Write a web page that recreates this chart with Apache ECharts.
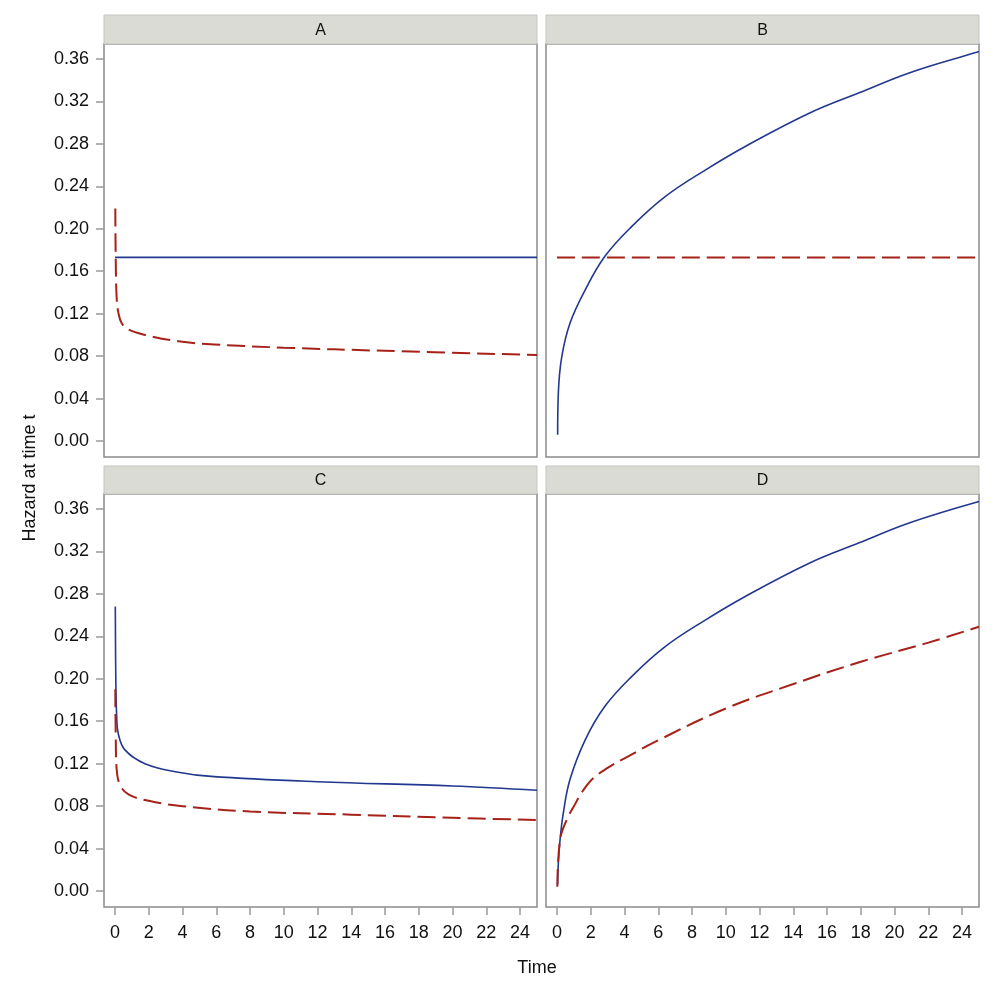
<!DOCTYPE html>
<html>
<head>
<meta charset="utf-8">
<script src="https://cdn.jsdelivr.net/npm/echarts@6/dist/echarts.min.js"></script>
<style>
  html, body { margin: 0; padding: 0; background: #fff; }
  #chart { width: 997px; height: 997px; }
</style>
</head>
<body>
<div id="chart"></div>
<script>
// values
const panels = ['A', 'B', 'C', 'D']
const xTicks = [0, 2, 4, 6, 8, 10, 12, 14, 16, 18, 20, 22, 24]
const yTicks = [0, 0.04, 0.08, 0.12, 0.16, 0.2, 0.24, 0.28, 0.32, 0.36]

// panel A
const aBlueT = [0, 25]
const aBlueH = [0.173, 0.173]
const aRedT = [0.02, 0.05, 0.1, 0.2, 0.4, 0.8, 1.78, 3.75, 5.9, 10, 16, 25]
const aRedH = [0.219, 0.165, 0.135, 0.121, 0.111, 0.105, 0.100, 0.094, 0.091, 0.088, 0.085, 0.081]

// panel B
const bBlueT = [0.04, 0.08, 0.28, 0.77, 1.66, 2.84, 4.42, 6.39, 8.76, 11.1, 14.97, 17.9, 20.9, 24.8, 25]
const bBlueH = [0.006, 0.045, 0.079, 0.111, 0.142, 0.174, 0.202, 0.230, 0.255, 0.277, 0.309, 0.328, 0.347, 0.366, 0.367]
const bRedT = [0, 25]
const bRedH = [0.173, 0.173]

// panel C
const cBlueT = [0.02, 0.05, 0.1, 0.2, 0.59, 1.78, 3.75, 5.7, 12, 20, 25]
const cBlueH = [0.268, 0.199, 0.165, 0.148, 0.133, 0.120, 0.112, 0.108, 0.103, 0.099, 0.095]
const cRedT = [0.02, 0.05, 0.1, 0.3, 0.8, 2, 4, 8, 14, 20, 25]
const cRedH = [0.190, 0.140, 0.115, 0.100, 0.091, 0.085, 0.080, 0.075, 0.072, 0.069, 0.067]

// panel D
const dBlueT = [0.04, 0.08, 0.18, 0.37, 0.77, 1.66, 2.84, 4.42, 6.39, 8.76, 11.1, 14.97, 17.9, 20.9, 25]
const dBlueH = [0.006, 0.026, 0.048, 0.073, 0.105, 0.142, 0.174, 0.202, 0.230, 0.255, 0.277, 0.309, 0.328, 0.347, 0.367]
const dRedT = [0.02, 0.18, 0.57, 0.97, 1.56, 2.13, 3, 4, 6, 10, 14, 18, 22, 25]
const dRedH = [0.004, 0.048, 0.067, 0.079, 0.095, 0.106, 0.116, 0.125, 0.142, 0.172, 0.195, 0.216, 0.234, 0.249]

const blueT = [aBlueT, bBlueT, cBlueT, dBlueT]
const blueH = [aBlueH, bBlueH, cBlueH, dBlueH]
const redT = [aRedT, bRedT, cRedT, dRedT]
const redH = [aRedH, bRedH, cRedH, dRedH]

const FONT = 'Liberation Sans'
const BLUE = '#22388f'
const RED = '#a62219'

const gridPos = [
  { left: 104, top: 44 },
  { left: 546, top: 44 },
  { left: 104, top: 494 },
  { left: 546, top: 494 }
]
const W = 433
const H = 413

function pairs(t, h) {
  return t.map((v, i) => [v, h[i]])
}

const chart = echarts.init(document.getElementById('chart'))

const grid = gridPos.map(p => ({
  left: p.left, top: p.top, width: W, height: H,
  show: true, borderColor: '#8a8a8a', borderWidth: 1.5, backgroundColor: '#fff'
}))

const xAxis = panels.map((p, i) => ({
  type: 'value', gridIndex: i, min: -0.65, max: 25, position: 'bottom',
  axisLine: { show: false, onZero: false },
  splitLine: { show: false },
  axisTick: { show: i >= 2, length: 8, lineStyle: { color: '#999', width: 1.5 }, customValues: xTicks },
  axisLabel: { show: i >= 2, customValues: xTicks, color: '#111', fontFamily: FONT, fontSize: 18, margin: 17 }
}))

const yAxis = panels.map((p, i) => ({
  type: 'value', gridIndex: i, min: -0.015, max: 0.374, position: 'left',
  axisLine: { show: false, onZero: false },
  splitLine: { show: false },
  axisTick: { show: i % 2 === 0, length: 8, lineStyle: { color: '#999', width: 1.5 }, customValues: yTicks },
  axisLabel: {
    show: i % 2 === 0, customValues: yTicks, color: '#111', fontFamily: FONT, fontSize: 18, margin: 15,
    formatter: v => v.toFixed(2)
  }
}))

const series = []
panels.forEach((p, i) => {
  series.push({
    type: 'line', xAxisIndex: i, yAxisIndex: i, data: pairs(blueT[i], blueH[i]),
    showSymbol: false, smooth: 0.4,
    lineStyle: { color: BLUE, width: 1.6 }
  })
  series.push({
    type: 'line', xAxisIndex: i, yAxisIndex: i, data: pairs(redT[i], redH[i]),
    showSymbol: false, smooth: 0.4,
    lineStyle: { color: RED, width: 2, type: [18, 7] }
  })
})

// facet strips
const graphic = []
const strips = [
  { x: 104, y: 15, h: 29 },
  { x: 546, y: 15, h: 29 },
  { x: 104, y: 466, h: 28 },
  { x: 546, y: 466, h: 28 }
]
strips.forEach((s, i) => {
  graphic.push({
    type: 'rect', shape: { x: s.x, y: s.y, width: W, height: s.h },
    style: { fill: '#d9dbd4', stroke: '#c4c6c0', lineWidth: 1 }
  })
  graphic.push({
    type: 'text', x: s.x + W / 2, y: s.y + s.h / 2 + 1,
    style: { text: panels[i], fill: '#111', font: '16px "Liberation Sans"', align: 'center', verticalAlign: 'middle' }
  })
})
graphic.push({
  type: 'text', x: 537, y: 968,
  style: { text: 'Time', fill: '#111', font: '18px "Liberation Sans"', align: 'center', verticalAlign: 'middle' }
})
graphic.push({
  type: 'text', x: 30, y: 478, rotation: Math.PI / 2,
  style: { text: 'Hazard at time t', fill: '#111', font: '18px "Liberation Sans"', align: 'center', verticalAlign: 'middle' }
})

chart.setOption({
  backgroundColor: '#fff',
  animation: false,
  grid: grid,
  xAxis: xAxis,
  yAxis: yAxis,
  series: series,
  graphic: graphic
})
</script>
</body>
</html>
